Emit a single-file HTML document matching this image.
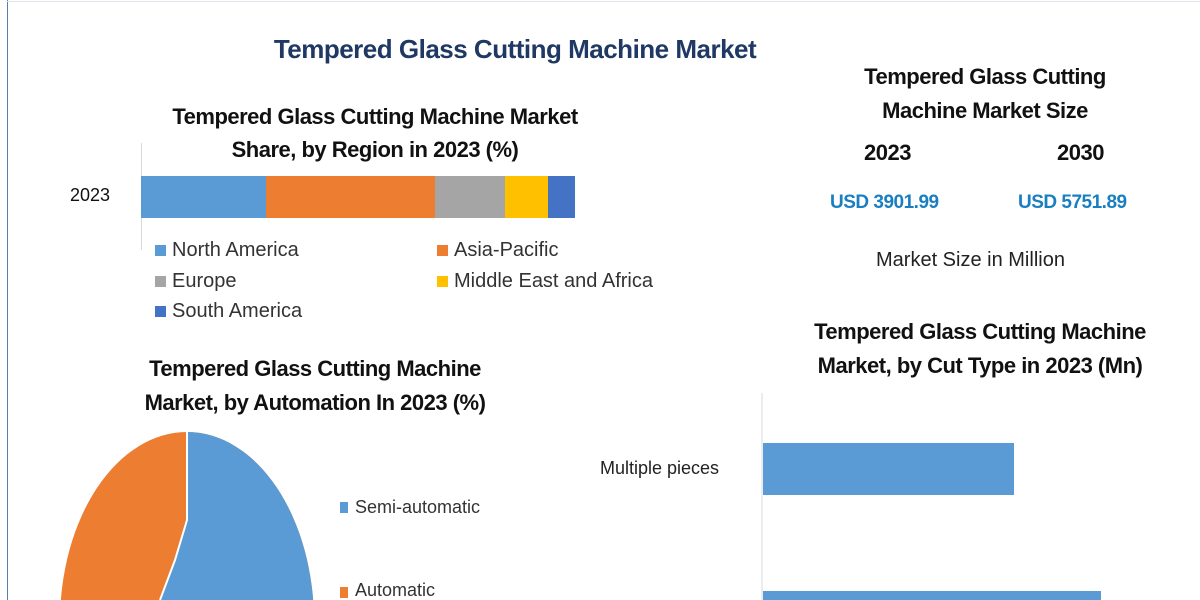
<!DOCTYPE html>
<html style="overflow:hidden;height:600px"><head><meta charset="utf-8"><style>
body{margin:0;width:1200px;height:600px;overflow:hidden;background:#fff;position:relative;font-family:"Liberation Sans",sans-serif}
.t{position:absolute;white-space:nowrap;color:#111}
.b{font-weight:bold;letter-spacing:-0.5px}
.c{text-align:center}
.sw{display:inline-block;width:11px;height:11px;margin-right:6px;vertical-align:0}
</style></head><body>
<div style="position:absolute;left:7px;top:0;width:1px;height:600px;background:#5a7fa8"></div>
<div style="position:absolute;left:7px;top:1px;width:1193px;height:1px;background:#dfe6ee"></div>

<div class="t b c" style="left:230px;top:34px;width:570px;font-size:26px;color:#1f3864">Tempered Glass Cutting Machine Market</div>

<div class="t b c" style="left:130px;top:100px;width:490px;font-size:22px;line-height:33px">Tempered Glass Cutting Machine Market<br>Share, by Region in 2023 (%)</div>
<div style="position:absolute;left:141px;top:143px;width:1px;height:107px;background:#d9d9d9"></div>
<div class="t" style="left:70px;top:185px;font-size:18px">2023</div>
<div style="position:absolute;top:176px;height:42px;left:141px;width:125px;background:#5b9bd5"></div>
<div style="position:absolute;top:176px;height:42px;left:266px;width:169px;background:#ed7d31"></div>
<div style="position:absolute;top:176px;height:42px;left:435px;width:70px;background:#a5a5a5"></div>
<div style="position:absolute;top:176px;height:42px;left:505px;width:43px;background:#ffc000"></div>
<div style="position:absolute;top:176px;height:42px;left:548px;width:27px;background:#4472c4"></div>
<div class="t" style="left:155px;top:239px;font-size:20px;color:#333"><span class="sw" style="background:#5b9bd5"></span>North America</div>
<div class="t" style="left:437px;top:239px;font-size:20px;color:#333"><span class="sw" style="background:#ed7d31"></span>Asia-Pacific</div>
<div class="t" style="left:155px;top:270px;font-size:20px;color:#333"><span class="sw" style="background:#a5a5a5"></span>Europe</div>
<div class="t" style="left:437px;top:270px;font-size:20px;color:#333"><span class="sw" style="background:#ffc000"></span>Middle East and Africa</div>
<div class="t" style="left:155px;top:300px;font-size:20px;color:#333"><span class="sw" style="background:#4472c4"></span>South America</div>

<div class="t b c" style="left:820px;top:60px;width:330px;font-size:22px;line-height:34px">Tempered Glass Cutting<br>Machine Market Size</div>
<div class="t b" style="left:864px;top:140px;font-size:22px">2023</div>
<div class="t b" style="left:1057px;top:140px;font-size:22px">2030</div>
<div class="t b" style="left:830px;top:192px;font-size:19px;color:#1a7fc1">USD 3901.99</div>
<div class="t b" style="left:1018px;top:192px;font-size:19px;color:#1a7fc1">USD 5751.89</div>
<div class="t" style="left:876px;top:249px;font-size:20px;color:#222">Market Size in Million</div>

<div class="t b c" style="left:100px;top:352px;width:430px;font-size:22px;line-height:34px">Tempered Glass Cutting Machine<br>Market, by Automation In 2023 (%)</div>
<svg style="position:absolute;left:0;top:0" width="1200" height="600">
<defs><clipPath id="e"><ellipse cx="187" cy="622" rx="127" ry="190"/></clipPath></defs>
<g clip-path="url(#e)">
<rect x="0" y="400" width="400" height="200" fill="#ed7d31"/>
<polygon points="187,432 400,432 400,600 155,600 160,600 175,560 187,520" fill="#5b9bd5"/>
<polyline points="187,432 187,520 175,560 160,600" fill="none" stroke="#fff" stroke-width="2"/>
</g>
<rect x="340" y="502" width="8" height="11" fill="#5b9bd5"/>
<rect x="340" y="587" width="8" height="11" fill="#ed7d31"/>
<line x1="762" y1="393" x2="762" y2="600" stroke="#d9d9d9"/>
<rect x="763" y="443" width="251" height="52" fill="#5b9bd5"/>
<rect x="763" y="591" width="338" height="9" fill="#5b9bd5"/>
</svg>
<div class="t" style="left:355px;top:497px;font-size:18px;color:#333">Semi-automatic</div>
<div class="t" style="left:355px;top:580px;font-size:18px;line-height:20px;color:#333">Automatic</div>

<div class="t b c" style="left:770px;top:315px;width:420px;font-size:22px;line-height:34px">Tempered Glass Cutting Machine<br>Market, by Cut Type in 2023 (Mn)</div>
<div class="t" style="left:600px;top:458px;font-size:18px;color:#222">Multiple pieces</div>
</body></html>
